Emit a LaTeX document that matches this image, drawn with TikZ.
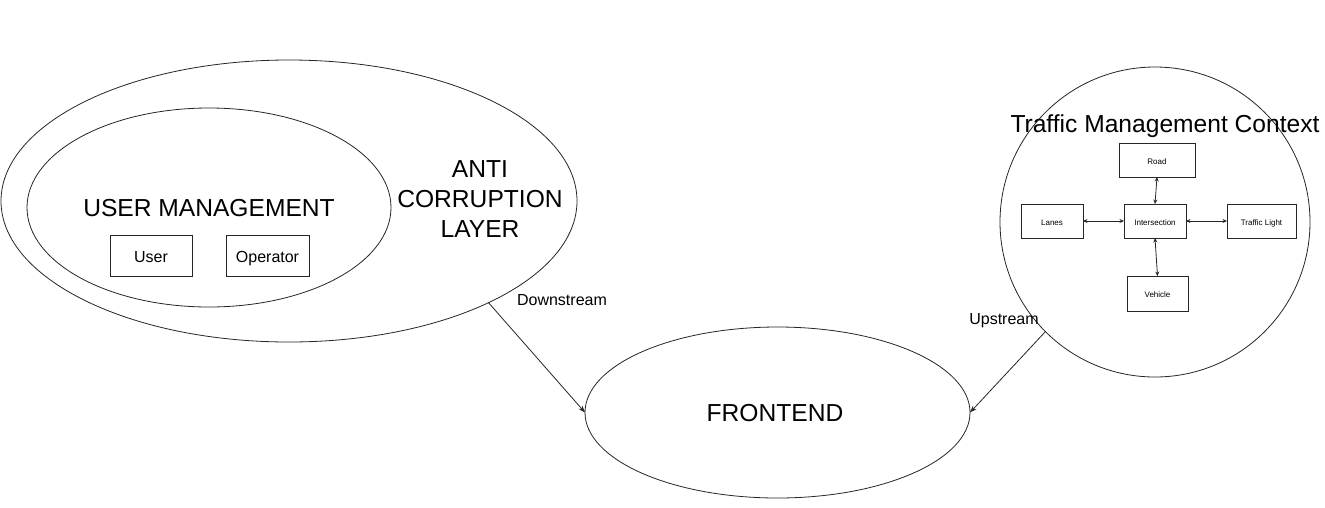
\documentclass[tikz,border=0pt]{standalone}
\usepackage{fontspec}
\setmainfont{Liberation Sans}
\usetikzlibrary{shapes.geometric,arrows.meta}
\begin{document}
\begin{tikzpicture}[x=1pt,y=-1pt,line width=0.8pt,
  ln/.style={draw=black!85},
  ell/.style={ln,ellipse,inner sep=0pt,outer sep=0pt},
  bigtxt/.style={font=\fontsize{24.6}{29.6}\selectfont,align=center,inner sep=0pt},
  midtxt/.style={font=\fontsize{16}{19}\selectfont,inner sep=0pt},
  midbox/.style={ln,rectangle,minimum width=82pt,minimum height=41pt,inner sep=0pt,outer sep=0pt,font=\fontsize{16}{19}\selectfont,text height=14pt,text depth=0pt},
  smallbox/.style={ln,rectangle,minimum height=34pt,inner sep=0pt,outer sep=0pt,font=\fontsize{8}{10}\selectfont,text height=8pt,text depth=0pt},
  bigarrow/.style={ln,-{Stealth[length=7pt,width=5pt]}},
  dblarrow/.style={ln,{Stealth[length=4.5pt,width=4pt]}-{Stealth[length=4.5pt,width=4pt]}}]
\useasboundingbox[fill=white] (0,0) rectangle (1325,507);

% Anti corruption layer
\node[ell,minimum width=576pt,minimum height=282pt] (acl) at (289,201) {};
\node[bigtxt] (acltxt) at (480,199) {ANTI\\CORRUPTION\\LAYER};

% User management
\node[ell,minimum width=364pt,minimum height=199pt] (um) at (209,207.5) {};
\node[bigtxt,anchor=base] (umtxt) at (209,216.7) {USER MANAGEMENT};
\node[midbox] (user) at (151,255.5) {User};
\node[midbox,minimum width=83pt] (oper) at (267.5,255.5) {Operator};

% Frontend
\node[ell,minimum width=385pt,minimum height=171pt] (fe) at (777.5,412.5) {};
\node[bigtxt] (fetxt) at (775,413) {FRONTEND};

% Traffic management context
\node[ln,circle,minimum size=310pt,inner sep=0pt,outer sep=0pt] (tmc) at (1155,222) {};
\node[bigtxt,anchor=base] (tmctxt) at (1165,132.3) {Traffic Management Context};
\node[smallbox,minimum width=76pt] (road) at (1157,160) {Road};
\node[smallbox,minimum width=62pt] (lanes) at (1052,221) {Lanes};
\node[smallbox,minimum width=62pt] (inter) at (1155,221) {Intersection};
\node[smallbox,minimum width=69pt] (light) at (1261.5,221) {Traffic Light};
\node[smallbox,minimum width=61pt,minimum height=35pt] (veh) at (1157.5,293.5) {Vehicle};

\draw[dblarrow] (road.south) -- (inter.north);
\draw[dblarrow] (lanes.east) -- (inter.west);
\draw[dblarrow] (inter.east) -- (light.west);
\draw[dblarrow] (inter.south) -- (veh.north);

% Context relations
\draw[bigarrow] (acl.-27) -- (fe.180);
\node[midtxt] (down) at (562,300) {Downstream};
\draw[bigarrow] (tmc.225.3) -- (fe.east);
\node[midtxt] (up) at (1004,321) {Upstream};
\end{tikzpicture}
\end{document}
